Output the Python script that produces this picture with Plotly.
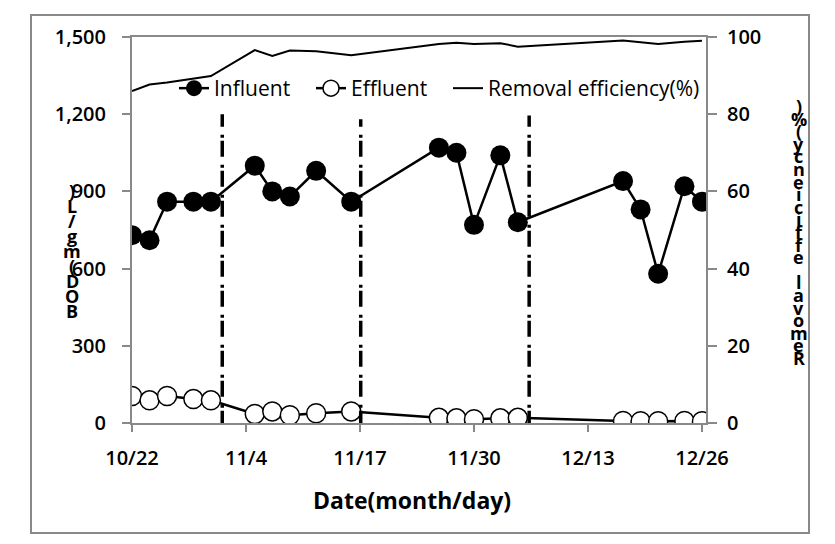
import plotly.graph_objects as go

# ---------------- data ----------------
dates = ["2013-10-22", "2013-10-24", "2013-10-26", "2013-10-29", "2013-10-31",
         "2013-11-05", "2013-11-07", "2013-11-09", "2013-11-12", "2013-11-16",
         "2013-11-26", "2013-11-28", "2013-11-30", "2013-12-03", "2013-12-05",
         "2013-12-17", "2013-12-19", "2013-12-21", "2013-12-24", "2013-12-26"]
influent = [730, 710, 860, 860, 860, 1000, 900, 880, 980, 860,
            1070, 1050, 770, 1040, 780, 940, 830, 580, 920, 860]
effluent = [105, 88, 105, 93, 88, 35, 45, 30, 38, 45,
            20, 18, 15, 18, 20, 8, 7, 7, 8, 7]
removal = [86.0, 87.7, 88.2, 89.2, 89.9, 96.6, 95.1, 96.5, 96.3, 95.3,
           98.2, 98.5, 98.2, 98.4, 97.5, 99.1, 98.7, 98.2, 98.8, 99.0]
# phase boundaries (dash-dot lines)
phase_lines = ["2013-11-01 07:00", "2013-11-17 02:00", "2013-12-06 07:00"]
phase_tops = [1200, 1180, 1195]

tick_dates = ["2013-10-22", "2013-11-04", "2013-11-17", "2013-11-30", "2013-12-13", "2013-12-26"]
tick_text = ["10/22", "11/4", "11/17", "11/30", "12/13", "12/26"]
left_ticks = [0, 300, 600, 900, 1200, 1500]
right_ticks = [0, 20, 40, 60, 80, 100]
left_title = "BOD(mg/L)"
right_title = "Removal efficiency(%)"
x_title = "Date(month/day)"

# ---------------- layout geometry (window pixels) ----------------
OFF = 8                      # default page body margin
W, H = 835 - 2 * OFF, 544 - 2 * OFF
L, R, T, B = 132, 706, 37, 423   # plot area in window pixels


def px(x):
    return (x - L) / (R - L)


def py(y):
    return (B - y) / (B - T)


FONT = "Open Sans"
GRAY = "#898989"

fig = go.Figure()
fig.add_trace(go.Scatter(
    x=dates, y=influent, name="Influent", mode="lines+markers",
    line=dict(color="black", width=2.5),
    marker=dict(symbol="circle", size=20, color="black"),
    legendwidth=92,
))
fig.add_trace(go.Scatter(
    x=dates, y=effluent, name="Effluent", mode="lines+markers",
    line=dict(color="black", width=2.5),
    marker=dict(symbol="circle", size=19, color="white", line=dict(color="black", width=1.5)),
    legendwidth=92,
))
fig.add_trace(go.Scatter(
    x=dates, y=removal, name="Removal efficiency(%)", mode="lines",
    line=dict(color="black", width=2), yaxis="y2",
))

shapes = []
for d, top in zip(phase_lines, phase_tops):
    shapes.append(dict(type="line", xref="x", yref="y", x0=d, x1=d, y0=-15, y1=top,
                       line=dict(color="black", width=3.5, dash="16px,3px,3px,8px")))
# outer frame
shapes.append(dict(type="rect", xref="paper", yref="paper",
                   x0=px(31), x1=px(809), y0=py(533), y1=py(15),
                   line=dict(color=GRAY, width=2), fillcolor="rgba(0,0,0,0)", layer="below"))

annotations = []
# stacked axis titles (read bottom-to-top)
for i, ch in enumerate(left_title):
    annotations.append(dict(text=ch, xref="paper", yref="paper", x=px(72), y=py(311 - i * 15),
                            showarrow=False, xanchor="center", yanchor="middle",
                            font=dict(family=FONT, size=18, color="black", weight="bold")))
for i, ch in enumerate(right_title):
    annotations.append(dict(text=ch, xref="paper", yref="paper", x=px(799), y=py(358 - i * 12.6),
                            showarrow=False, xanchor="center", yanchor="middle",
                            font=dict(family=FONT, size=18, color="black", weight="bold")))
# x axis title
annotations.append(dict(text=x_title, xref="paper", yref="paper", x=px(412), y=py(500),
                        showarrow=False, xanchor="center", yanchor="middle",
                        font=dict(family=FONT, size=23, color="black", weight="bold")))

TICKFONT = dict(family=FONT, size=20, weight=600, color="black")

fig.update_layout(
    width=W, height=H,
    margin=dict(l=L - OFF, r=(OFF + W) - R, t=T - OFF, b=(OFF + H) - B, pad=0),
    paper_bgcolor="white", plot_bgcolor="white",
    font=dict(family=FONT, size=19, color="black"),
    showlegend=True,
    legend=dict(orientation="h", x=px(174), y=py(68), xanchor="left", yanchor="top",
                bgcolor="rgba(0,0,0,0)", font=dict(family=FONT, size=21, color="black"),
                itemwidth=30, tracegroupgap=0),
    xaxis=dict(type="date", range=["2013-10-22", "2013-12-26 11:00"],
               tickvals=tick_dates, ticktext=tick_text,
               showgrid=False, zeroline=False, showline=True, linecolor=GRAY, linewidth=2,
               mirror=True, ticks="outside", ticklen=7, tickcolor=GRAY, tickwidth=2,
               ticklabelstandoff=9, tickfont=TICKFONT, automargin=False),
    yaxis=dict(range=[0, 1500], tickvals=left_ticks, tickformat=",d",
               showgrid=False, zeroline=False, showline=True, linecolor=GRAY, linewidth=2,
               ticks="outside", ticklen=8, tickcolor=GRAY, tickwidth=2,
               ticklabelstandoff=12, tickfont=TICKFONT, automargin=False),
    yaxis2=dict(range=[0, 100], tickvals=right_ticks, overlaying="y", side="right",
                showgrid=False, zeroline=False, showline=True, linecolor=GRAY, linewidth=2,
                ticks="outside", ticklen=9, tickcolor=GRAY, tickwidth=2,
                ticklabelstandoff=6, tickfont=TICKFONT, automargin=False),
    shapes=shapes,
    annotations=annotations,
)

fig.write_html("out.html")
